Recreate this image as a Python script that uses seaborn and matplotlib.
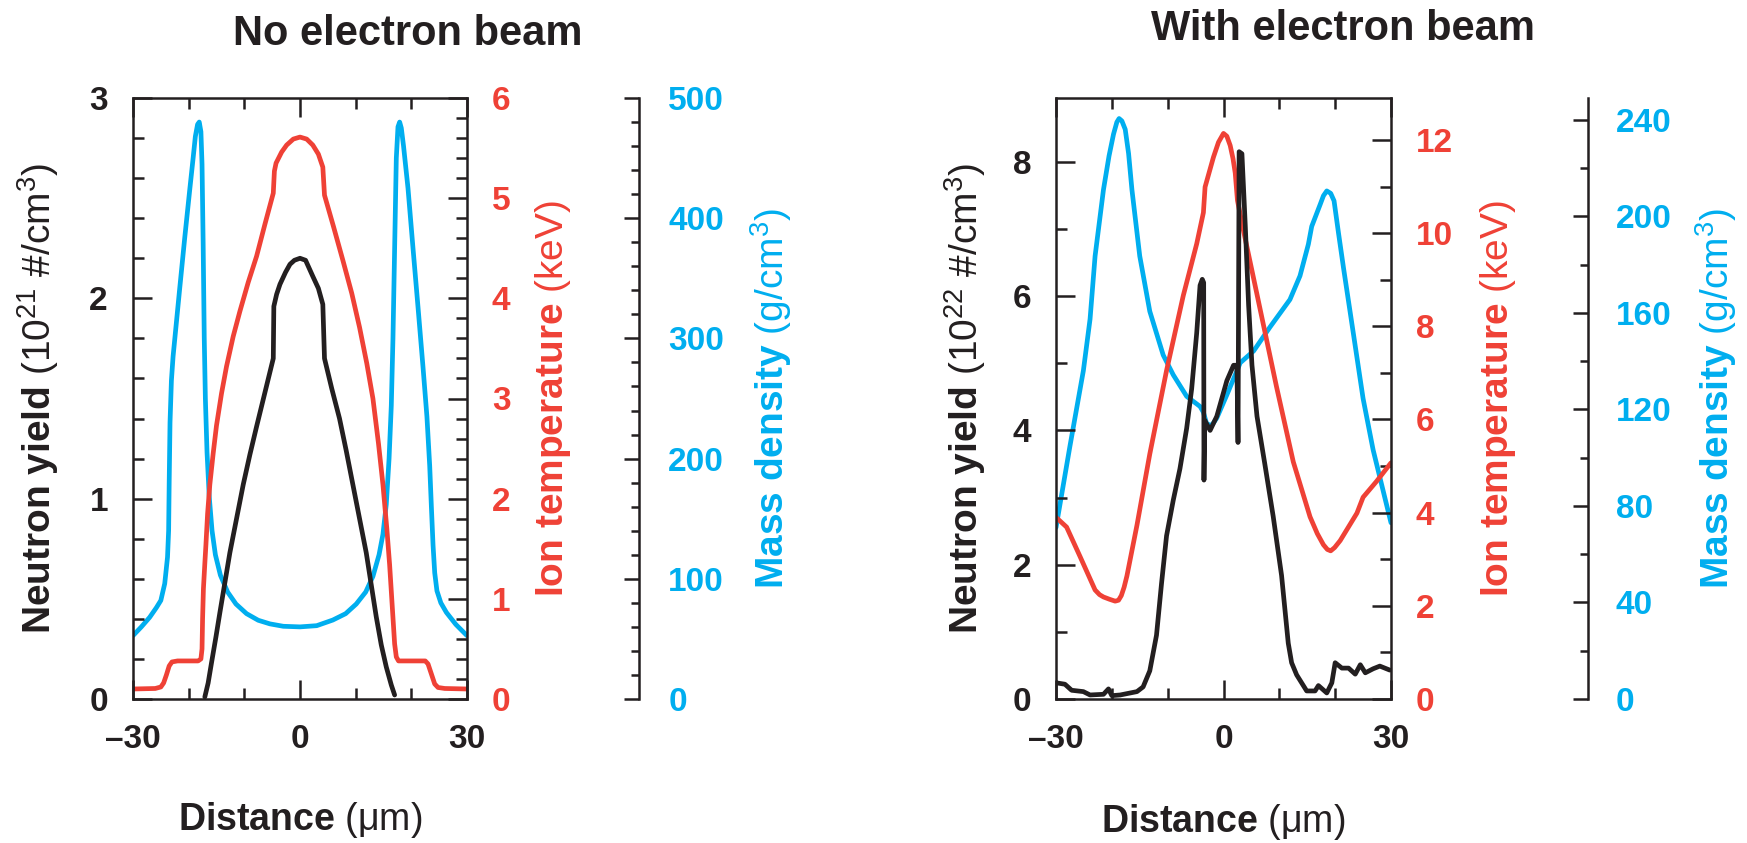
import matplotlib
matplotlib.use("Agg")
import matplotlib.pyplot as plt
import pandas as pd
import seaborn as sns

# ---------------- shared distance axis ----------------
x_limits = (-30, 30)
x_major = [-30, 0, 30]
x_major_labels = ["\u201330", "0", "30"]
x_minor = [-20, -10, 10, 20]

# ---------------- no electron beam ----------------
nb_yield_x = [-17.1, -16.5, -15.9, -15.1, -14.4, -13.5, -12.6, -11.4, -10.2, -9.0,
              -7.8, -6.3, -4.8, -4.7, -4.2, -3.6, -2.6, -1.8, -1.0, 0.0,
              1.0, 2.3, 3.3, 4.1, 4.4, 5.7, 7.1, 8.3, 9.5, 10.7,
              11.9, 12.8, 13.7, 14.6, 15.5, 16.4, 17.0]
nb_yield = [0.01, 0.08, 0.18, 0.31, 0.43, 0.58, 0.73, 0.90, 1.07, 1.22,
            1.36, 1.53, 1.70, 1.96, 2.02, 2.07, 2.13, 2.17, 2.19, 2.20,
            2.19, 2.11, 2.05, 1.97, 1.70, 1.55, 1.40, 1.24, 1.07, 0.90,
            0.73, 0.57, 0.41, 0.27, 0.16, 0.07, 0.02]

nb_temp_x = [-30.0, -26.0, -25.0, -24.5, -24.0, -23.5, -23.0, -22.0, -18.3, -17.8,
             -17.6, -17.5, -17.35, -17.1, -16.9, -16.6, -16.2, -15.6, -15.0, -14.1,
             -13.2, -12.0, -10.8, -9.3, -7.8, -6.3, -4.8, -4.6, -4.3, -3.3,
             -2.4, -1.2, 0.0, 1.2, 2.3, 3.3, 4.1, 4.4, 6.0, 7.7,
             9.3, 10.7, 12.0, 13.1, 14.1, 14.9, 15.6, 16.1, 16.6, 17.0,
             17.3, 17.7, 22.5, 23.0, 23.6, 24.2, 24.8, 26.0, 30.0]
nb_temp = [0.10, 0.105, 0.12, 0.16, 0.24, 0.33, 0.37, 0.38, 0.38, 0.40,
           0.50, 0.80, 1.10, 1.35, 1.54, 1.85, 2.14, 2.45, 2.73, 3.05,
           3.32, 3.62, 3.87, 4.16, 4.42, 4.74, 5.05, 5.27, 5.35, 5.46,
           5.53, 5.59, 5.61, 5.59, 5.53, 5.44, 5.31, 5.03, 4.72, 4.38,
           4.05, 3.71, 3.35, 3.00, 2.55, 2.14, 1.70, 1.34, 0.90, 0.55,
           0.42, 0.38, 0.38, 0.35, 0.25, 0.15, 0.115, 0.105, 0.10]

nb_rho_x = [-30.0, -28.5, -27.0, -25.8, -25.0, -24.3, -23.8, -23.6, -23.5, -23.35,
            -23.1, -22.8, -21.6, -20.7, -19.8, -19.2, -18.8, -18.4, -18.1, -17.8,
            -17.6, -17.4, -17.2, -17.0, -16.7, -16.3, -15.8, -15.2, -14.3, -13.0,
            -11.5, -9.6, -7.5, -5.4, -3.0, 0.0, 3.0, 5.9, 8.2, 10.1,
            11.8, 13.1, 14.2, 14.9, 15.5, 16.0, 16.4, 16.7, 17.0, 17.3,
            17.6, 17.9, 18.2, 18.6, 19.4, 20.3, 21.2, 22.1, 22.8, 23.3,
            23.6, 23.9, 24.2, 24.6, 25.3, 26.3, 28.0, 30.0]
nb_rho = [52.7, 60.0, 68.0, 76.0, 82.0, 96.0, 118.0, 140.0, 180.0, 230.0,
          265.0, 285.0, 342.0, 384.0, 424.0, 450.0, 468.0, 478.0, 480.0, 472.0,
          445.0, 380.0, 300.0, 250.0, 205.0, 168.0, 140.0, 120.0, 103.0, 89.0,
          79.0, 71.0, 65.5, 62.5, 60.5, 60.0, 61.0, 65.7, 71.0, 79.0,
          89.0, 102.0, 120.0, 137.0, 162.0, 200.0, 244.0, 300.0, 375.0, 450.0,
          476.0, 480.0, 475.0, 460.0, 425.0, 375.0, 326.0, 276.0, 235.0, 194.0,
          160.0, 128.0, 105.0, 90.0, 80.0, 72.0, 62.0, 52.7]

nb_yield_ticks = [0, 1, 2, 3]
nb_yield_minor = [0.2, 0.4, 0.6, 0.8, 1.2, 1.4, 1.6, 1.8, 2.2, 2.4, 2.6, 2.8]
nb_temp_ticks = [0, 1, 2, 3, 4, 5, 6]
nb_temp_minor = [0.2, 0.4, 0.6, 0.8, 1.2, 1.4, 1.6, 1.8, 2.2, 2.4, 2.6, 2.8,
                 3.2, 3.4, 3.6, 3.8, 4.2, 4.4, 4.6, 4.8, 5.2, 5.4, 5.6, 5.8]
nb_rho_ticks = [0, 100, 200, 300, 400, 500]
nb_rho_minor = [20, 40, 60, 80, 120, 140, 160, 180, 220, 240, 260, 280,
                320, 340, 360, 380, 420, 440, 460, 480]

# ---------------- with electron beam ----------------
eb_yield_x = [-29.9, -28.4, -27.2, -25.1, -23.9, -21.5, -20.6, -20.0, -18.5, -15.5,
              -14.4, -13.2, -12.0, -11.1, -10.2, -9.0, -7.8, -6.6, -5.7, -4.8,
              -4.2, -3.8, -3.55, -3.5, -3.35, -2.4, -1.2, 0.6, 1.8, 2.4,
              2.6, 2.8, 3.3, 3.9, 4.5, 5.1, 6.0, 7.4, 8.9, 10.4,
              11.6, 12.2, 13.1, 14.9, 16.4, 17.0, 18.5, 19.4, 20.0, 21.2,
              22.4, 23.6, 24.5, 25.4, 26.8, 28.0, 29.8]
eb_yield = [0.24, 0.22, 0.13, 0.11, 0.06, 0.07, 0.15, 0.05, 0.06, 0.11,
            0.18, 0.42, 0.95, 1.72, 2.43, 2.96, 3.43, 4.03, 4.62, 5.45,
            6.16, 6.25, 6.20, 3.26, 4.15, 4.00, 4.21, 4.74, 4.97, 4.97,
            3.82, 8.15, 8.12, 7.05, 5.86, 4.97, 4.21, 3.50, 2.72, 1.84,
            0.83, 0.54, 0.36, 0.12, 0.12, 0.20, 0.09, 0.24, 0.54, 0.46,
            0.46, 0.37, 0.51, 0.39, 0.45, 0.49, 0.43]

eb_temp_x = [-30.0, -28.1, -25.7, -23.0, -22.2, -21.5, -20.4, -19.4, -18.8, -18.3,
             -17.8, -17.3, -15.5, -13.2, -10.2, -7.2, -4.8, -3.6, -3.3, -1.8,
             -0.9, 0.0, 0.6, 1.2, 1.7, 2.1, 2.5, 3.5, 6.5, 9.5,
             12.5, 15.5, 16.8, 17.9, 18.6, 19.2, 19.9, 20.9, 23.9, 25.0,
             27.4, 30.0]
eb_temp = [3.90, 3.69, 3.06, 2.34, 2.24, 2.19, 2.14, 2.10, 2.12, 2.22,
           2.40, 2.64, 3.73, 5.26, 7.05, 8.66, 9.77, 10.44, 10.99, 11.63,
           11.95, 12.14, 12.08, 11.88, 11.60, 11.29, 10.70, 10.10, 8.40, 6.70,
           5.09, 3.91, 3.55, 3.31, 3.21, 3.18, 3.25, 3.40, 3.99, 4.33,
           4.67, 5.07]

eb_rho_x = [-30.0, -27.5, -25.1, -23.9, -23.0, -21.5, -20.5, -19.7, -19.1, -18.7,
            -18.2, -17.6, -17.0, -16.4, -15.0, -13.2, -10.8, -9.0, -6.6, -4.2,
            -3.6, -3.0, -2.1, -1.2, 0.6, 3.0, 5.4, 8.3, 11.9, 13.7,
            15.2, 15.8, 17.3, 17.9, 18.5, 19.2, 19.8, 20.6, 21.5, 23.3,
            25.0, 26.8, 30.0]
eb_rho = [71.0, 104.8, 136.0, 157.4, 183.5, 211.0, 225.0, 234.0, 239.0, 240.5,
          239.5, 236.0, 226.0, 211.0, 183.5, 160.6, 142.5, 134.3, 125.4, 121.2,
          118.8, 113.9, 113.4, 116.4, 126.0, 139.3, 144.2, 154.0, 165.5, 175.3,
          188.4, 195.8, 204.8, 208.5, 210.5, 209.5, 206.4, 193.0, 178.5, 150.8,
          124.5, 103.2, 73.0]

eb_yield_ticks = [0, 2, 4, 6, 8]
eb_yield_minor = [1, 3, 5, 7]
eb_temp_ticks = [0, 2, 4, 6, 8, 10, 12]
eb_temp_minor = [1, 3, 5, 7, 9, 11]
eb_rho_ticks = [0, 40, 80, 120, 160, 200, 240]
eb_rho_minor = [20, 60, 100, 140, 180, 220]

# ---------------- text ----------------
titles = ["No electron beam", "With electron beam"]
x_label = "$\\mathbf{Distance}$ (\u03bcm)"
yield_labels = [r"$\mathbf{Neutron\ yield}$ (10$^{21}$ #/cm$^{3}$)",
                r"$\mathbf{Neutron\ yield}$ (10$^{22}$ #/cm$^{3}$)"]
temp_label = r"$\mathbf{Ion\ temperature}$ (keV)"
rho_label = r"$\mathbf{Mass\ density}$ (g/cm$^{3}$)"

# ---------------- style ----------------
BLACK = "#231F20"
RED = "#EF4136"
BLUE = "#00AEEF"

sns.set_theme(style="ticks")
plt.rcParams.update({
    "font.family": ["Liberation Sans", "DejaVu Sans"],
    "mathtext.fontset": "custom",
    "mathtext.rm": "Liberation Sans",
    "mathtext.bf": "Liberation Sans:bold",
    "mathtext.it": "Liberation Sans:italic",
    "axes.edgecolor": BLACK,
    "axes.linewidth": 1.8,
    "xtick.color": BLACK,
    "ytick.color": BLACK,
})

FIG_W, FIG_H = 1747, 843
fig = plt.figure(figsize=(FIG_W / 100, FIG_H / 100), dpi=100)

TICK_FS = 24
LABEL_FS = 28
XLABEL_FS = 27
TITLE_FS = 30
LW = 3.4


def box(x0, y0, x1, y1):
    return [x0 / FIG_W, 1 - y1 / FIG_H, (x1 - x0) / FIG_W, (y1 - y0) / FIG_H]


def frame(x, y):
    return pd.DataFrame({"x": x, "v": y})


def style_y(axis, side, majors, minors, color, major_len, minor_len, pad):
    axis.set_yticks(majors, labels=[f"{m:g}" for m in majors],
                    fontweight="bold", fontsize=TICK_FS, color=color)
    axis.set_yticks(minors, minor=True)
    axis.tick_params(axis="y", which="both", direction="in", width=1.8, color=BLACK,
                     left=(side == "left"), right=(side == "right"),
                     labelleft=(side == "left"), labelright=(side == "right"))
    axis.tick_params(axis="y", which="major", length=major_len, pad=pad)
    axis.tick_params(axis="y", which="minor", length=minor_len)


def panel(px, yld, ylabel, tmp, rho, ylims, ticks, title, title_xy, label_x,
          xlabel_y, rho_spine, rho_pad):
    ax = fig.add_axes(box(*px))
    ax_t = ax.twinx()
    ax_r = ax.twinx()

    # offset density axis first so its ticks keep their styling
    for name in ("left", "top", "bottom"):
        ax_r.spines[name].set_visible(False)
    ax_r.spines["right"].set_position(("axes", rho_spine))
    ax_r.spines["right"].set_linewidth(1.8)
    for s in ax_t.spines.values():
        s.set_visible(False)

    sns.lineplot(data=rho, x="x", y="v", ax=ax_r, color=BLUE, lw=LW,
                 sort=False, estimator=None, legend=False)
    sns.lineplot(data=tmp, x="x", y="v", ax=ax_t, color=RED, lw=LW,
                 sort=False, estimator=None, legend=False)
    sns.lineplot(data=yld, x="x", y="v", ax=ax, color=BLACK, lw=LW,
                 sort=False, estimator=None, legend=False)

    ax.set_zorder(3)
    ax_t.set_zorder(2)
    ax_r.set_zorder(1)
    ax.patch.set_visible(False)

    ax.set_xlim(*x_limits)
    ax.set_ylim(*ylims[0])
    ax_t.set_ylim(*ylims[1])
    ax_r.set_ylim(*ylims[2])

    ax.set_xticks(x_major, labels=x_major_labels, fontweight="bold", fontsize=TICK_FS)
    ax.set_xticks(x_minor, minor=True)
    ax.tick_params(axis="x", which="both", direction="in", top=True, bottom=True,
                   width=1.8, color=BLACK)
    ax.tick_params(axis="x", which="major", length=14, pad=18)
    ax.tick_params(axis="x", which="minor", length=8)

    style_y(ax, "left", ticks[0][0], ticks[0][1], BLACK, 14, 8, 18)
    style_y(ax_t, "right", ticks[1][0], ticks[1][1], RED, 14, 8, 18)
    style_y(ax_r, "right", ticks[2][0], ticks[2][1], BLUE, 11, 6, rho_pad)

    ax.set_xlabel(x_label, fontsize=XLABEL_FS, color=BLACK)
    ax.xaxis.set_label_coords(0.5, xlabel_y)
    ax.set_ylabel(ylabel, fontsize=LABEL_FS, color=BLACK)
    ax.yaxis.set_label_coords(label_x[0], 0.5)
    ax_t.set_ylabel(temp_label, fontsize=LABEL_FS, color=RED)
    ax_t.yaxis.set_label_coords(label_x[1], 0.5)
    ax_r.set_ylabel(rho_label, fontsize=LABEL_FS, color=BLUE)
    ax_r.yaxis.set_label_coords(label_x[2], 0.5)

    fig.text(title_xy[0] / FIG_W, 1 - title_xy[1] / FIG_H, title, ha="center",
             va="baseline", fontsize=TITLE_FS, fontweight="bold", color=BLACK)


panel((133, 98, 467, 699), frame(nb_yield_x, nb_yield), yield_labels[0],
      frame(nb_temp_x, nb_temp), frame(nb_rho_x, nb_rho),
      [(0, 3), (0, 6), (0, 500)],
      [(nb_yield_ticks, nb_yield_minor), (nb_temp_ticks, nb_temp_minor),
       (nb_rho_ticks, nb_rho_minor)],
      titles[0], (408, 45), (-0.216, 1.198, 1.841), -0.168, 1.515, 21)

panel((1056, 98, 1391, 699), frame(eb_yield_x, eb_yield), yield_labels[1],
      frame(eb_temp_x, eb_temp), frame(eb_rho_x, eb_rho),
      [(0, 8.95), (0, 12.9), (0, 249)],
      [(eb_yield_ticks, eb_yield_minor), (eb_temp_ticks, eb_temp_minor),
       (eb_rho_ticks, eb_rho_minor)],
      titles[1], (1343, 40), (-0.203, 1.260, 1.901), -0.172, 1.588, 20)

fig.savefig("out.png", dpi=100, facecolor="white")
